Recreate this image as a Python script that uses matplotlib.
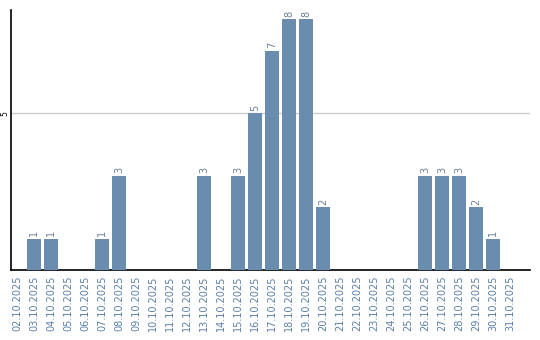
import matplotlib
matplotlib.use("Agg")
import matplotlib.pyplot as plt

dates = ["%02d.10.2025" % d for d in range(2, 32)]
counts = [0, 1, 1, 0, 0, 1, 3, 0, 0, 0, 0, 3, 0, 3, 5, 7, 8, 8, 2,
          0, 0, 0, 0, 0, 3, 3, 3, 2, 1, 0]

bar_color = "#6a8cae"
label_color = "#5a7fa8"

fig = plt.figure(figsize=(5.4, 3.4), dpi=100)
ax = fig.add_axes([0.0204, 0.206, 0.961, 0.765])

x = range(len(dates))
ax.bar(x, counts, width=0.82, color=bar_color, zorder=3)

for xi, v in zip(x, counts):
    if v > 0:
        ax.text(xi, v + 0.08, str(v), rotation=90, ha="center", va="bottom",
                fontsize=7, color="#6b7f93", zorder=4)

ax.set_xlim(-0.35, 30.15)
ax.set_ylim(0, 8.3)
ax.set_xticks(list(x))
ax.set_xticklabels(dates, rotation=90, fontsize=7, color=label_color)
ax.set_yticks([5])
ax.set_yticklabels(["5"], rotation=90, fontsize=5.5, va="center")
ax.tick_params(axis="x", length=0, pad=4)
ax.tick_params(axis="y", length=0, pad=1)
ax.yaxis.grid(True, color="#cccccc", linewidth=1, zorder=0)
ax.spines["top"].set_visible(False)
ax.spines["right"].set_visible(False)
ax.spines["left"].set_linewidth(1.2)
ax.spines["bottom"].set_linewidth(1.2)

fig.savefig("out.png", dpi=100)
